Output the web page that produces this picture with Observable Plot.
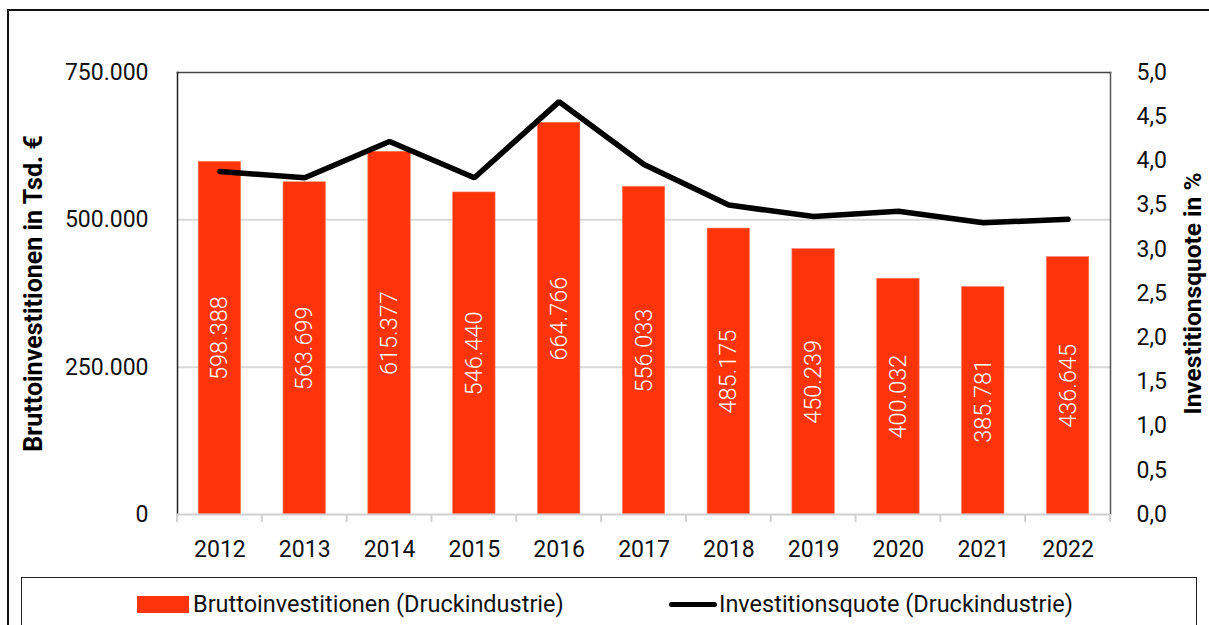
<!DOCTYPE html>
<html>
<head>
<meta charset="utf-8">
<script src="https://cdn.jsdelivr.net/npm/d3@7"></script>
<script src="https://cdn.jsdelivr.net/npm/@observablehq/plot@0.6"></script>
<style>
  html, body { margin: 0; padding: 0; background: #fff; }
  #wrap { position: relative; width: 1209px; height: 625px; overflow: hidden; font-family: Roboto, "Noto Sans", sans-serif; }
  #outer { position: absolute; left: 7px; top: 9px; width: 1300px; height: 700px; border-left: 2px solid #111; border-top: 2px solid #111; }
  #chart { position: absolute; left: 0; top: 0; }
  #legend { position: absolute; left: 21px; top: 577px; width: 1176px; height: 80px; border: 1.5px solid #222; box-sizing: border-box; }
  .item { position: absolute; top: 12px; font-size: 23.5px; color: #111; display: flex; align-items: center; white-space: nowrap; }
  .sw-bar { width: 52px; height: 17px; background: #ff3408; margin-right: 4px; }
  .sw-line { width: 48px; height: 5px; background: #000; border-radius: 3px; margin-right: 2px; }
</style>
</head>
<body>
<div id="wrap">
  <div id="outer"></div>
  <div id="chart"></div>
  <div id="legend"></div>
</div>
<script>
const years = ["2012","2013","2014","2015","2016","2017","2018","2019","2020","2021","2022"];
const invest = [598388, 563699, 615377, 546440, 664766, 556033, 485175, 450239, 400032, 385781, 436645];
const quote = [3.88, 3.81, 4.22, 3.81, 4.67, 3.96, 3.50, 3.37, 3.43, 3.30, 3.34];
const leftTicks = [0, 250000, 500000, 750000];
const rightTicks = [0, 0.5, 1, 1.5, 2, 2.5, 3, 3.5, 4, 4.5, 5];
const seriesNames = ["Bruttoinvestitionen (Druckindustrie)", "Investitionsquote (Druckindustrie)"];
const axisTitles = ["Bruttoinvestitionen in Tsd. €", "Investitionsquote in %"];

const leftMax = 750000, rightMax = 5;
const k = leftMax / rightMax;
const data = years.map((y, i) => ({year: y, invest: invest[i], quote: quote[i]}));
const de = v => d3.format(",")(v).replace(/,/g, ".");
const deDec = v => v.toFixed(1).replace(".", ",");

// boundary ticks between categories (computed from band scale)
function boundaryTicks(index, scales, values, dims) {
  const x = scales.x;
  const step = typeof x.step === "function" ? x.step() : (dims.width - dims.marginLeft - dims.marginRight) / years.length;
  const bw = typeof x.bandwidth === "function" ? x.bandwidth() : step / 2;
  const g = d3.create("svg:g").attr("stroke", "#d0d0d0").attr("stroke-width", 2);
  const y0 = dims.height - dims.marginBottom;
  const xs = years.map(y => x(y) + bw / 2 - step / 2);
  xs.push(x(years[years.length - 1]) + bw / 2 + step / 2);
  for (const xv of xs) g.append("line").attr("x1", xv).attr("x2", xv).attr("y1", y0).attr("y2", y0 + 8);
  return g.node();
}

const chart = Plot.plot({
  width: 1209,
  height: 577,
  marginLeft: 177,
  marginRight: 99,
  marginTop: 72,
  marginBottom: 63,
  style: {fontFamily: "Roboto, 'Noto Sans', sans-serif", fontSize: "23px", color: "#111", background: "transparent"},
  x: {domain: years, paddingInner: 0.5, paddingOuter: 0.25, round: false, axis: null},
  y: {domain: [0, leftMax], axis: null},
  marks: [
    Plot.ruleY(leftTicks.filter(d => d > 0 && d < leftMax), {stroke: "#d9d9d9", strokeWidth: 2}),
    Plot.barY(data, {x: "year", y: "invest", fill: "#ff3408", stroke: "#ff7a5c", strokeWidth: 0.6}),
    Plot.text(data, {x: "year", y: d => d.invest / 2, text: d => de(d.invest), rotate: -90, fill: "#fff", fontSize: 23.5, fontWeight: 300}),
    Plot.lineY(data, {x: "year", y: d => d.quote * k, stroke: "#000", strokeWidth: 5.5, strokeLinecap: "round", strokeLinejoin: "miter"}),
    // frame: top, left, right dark; bottom light
    Plot.frame({anchor: "top", stroke: "#444", strokeWidth: 1.5}),
    Plot.frame({anchor: "left", stroke: "#222", strokeWidth: 1.5}),
    Plot.frame({anchor: "right", stroke: "#555", strokeWidth: 1.5}),
    Plot.ruleY([0], {stroke: "#d0d0d0", strokeWidth: 2}),
    boundaryTicks,
    Plot.axisX({tickSize: 0, tickPadding: 26, fontSize: 23, label: null}),
    Plot.axisY(leftTicks, {anchor: "left", tickSize: 0, tickPadding: 29, tickFormat: de, fontSize: 23, label: null}),
    Plot.axisY(rightTicks.map(d => d * k), {anchor: "right", tickSize: 0, tickPadding: 26, tickFormat: d => deDec(d / k), fontSize: 23, label: null}),
    Plot.text([axisTitles[0]], {frameAnchor: "left", textAnchor: "middle", dx: -144, rotate: -90, fontWeight: "bold", fontSize: 25, fill: "#000"}),
    Plot.text([axisTitles[1]], {frameAnchor: "right", textAnchor: "middle", dx: 83, rotate: -90, fontWeight: "bold", fontSize: 24.5, fill: "#000"})
  ]
});
document.getElementById("chart").appendChild(chart);

const legend = document.getElementById("legend");
legend.innerHTML =
  `<div class="item" style="left:115px"><span class="sw-bar"></span>${seriesNames[0]}</div>` +
  `<div class="item" style="left:647px"><span class="sw-line"></span>${seriesNames[1]}</div>`;
</script>
</body>
</html>
